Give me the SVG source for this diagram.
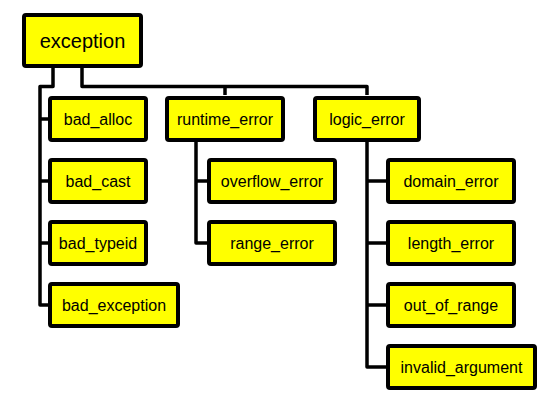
<svg xmlns="http://www.w3.org/2000/svg" width="556" height="403" viewBox="0 0 556 403">
<style>
.box{fill:#ffff00;stroke:#000;stroke-width:4;}
.lbl{font-family:"Liberation Sans",Arial,sans-serif;font-size:16px;fill:#000;text-anchor:middle;}
.big{font-size:20px;}
.conn{fill:none;stroke:#000;stroke-width:3.5;stroke-linejoin:round;}
</style>
<rect width="556" height="403" fill="#fff"/>
<g id="connectors" class="conn">
<path d="M53,68 V86.5 H40 V305 H48"/>
<path d="M40,119 H48 M40,181 H48 M40,243 H48"/>
<path d="M82,68 V86.5 H367 V95"/>
<path d="M225,86.5 V95"/>
<path d="M196,141 V243 H207 M196,181 H207"/>
<path d="M367,141 V367 H386 M367,181 H386 M367,243 H386 M367,305 H386"/>
</g>
<g id="exception"><rect class="box" x="24" y="15" width="117" height="51" rx="2"/><text class="lbl big" x="82.5" y="47.5">exception</text></g>
<g id="bad_alloc"><rect class="box" x="50" y="98" width="96" height="42" rx="2"/><text class="lbl" x="98" y="125">bad_alloc</text></g>
<g id="bad_cast"><rect class="box" x="50" y="160" width="96" height="42" rx="2"/><text class="lbl" x="98" y="187">bad_cast</text></g>
<g id="bad_typeid"><rect class="box" x="50" y="222" width="96" height="42" rx="2"/><text class="lbl" x="98" y="249">bad_typeid</text></g>
<g id="bad_exception"><rect class="box" x="50" y="284" width="128" height="42" rx="2"/><text class="lbl" x="114" y="311">bad_exception</text></g>
<g id="runtime_error"><rect class="box" x="167" y="98" width="116" height="42" rx="2"/><text class="lbl" x="225" y="125">runtime_error</text></g>
<g id="overflow_error"><rect class="box" x="209" y="160" width="126" height="42" rx="2"/><text class="lbl" x="272" y="187">overflow_error</text></g>
<g id="range_error"><rect class="box" x="209" y="222" width="126" height="42" rx="2"/><text class="lbl" x="272" y="249">range_error</text></g>
<g id="logic_error"><rect class="box" x="315" y="98" width="104" height="42" rx="2"/><text class="lbl" x="367" y="125">logic_error</text></g>
<g id="domain_error"><rect class="box" x="388" y="160" width="126" height="42" rx="2"/><text class="lbl" x="451" y="187">domain_error</text></g>
<g id="length_error"><rect class="box" x="388" y="222" width="126" height="42" rx="2"/><text class="lbl" x="451" y="249">length_error</text></g>
<g id="out_of_range"><rect class="box" x="388" y="284" width="126" height="42" rx="2"/><text class="lbl" x="451" y="311">out_of_range</text></g>
<g id="invalid_argument"><rect class="box" x="388" y="346" width="147" height="42" rx="2"/><text class="lbl" x="461.5" y="373">invalid_argument</text></g>
</svg>
